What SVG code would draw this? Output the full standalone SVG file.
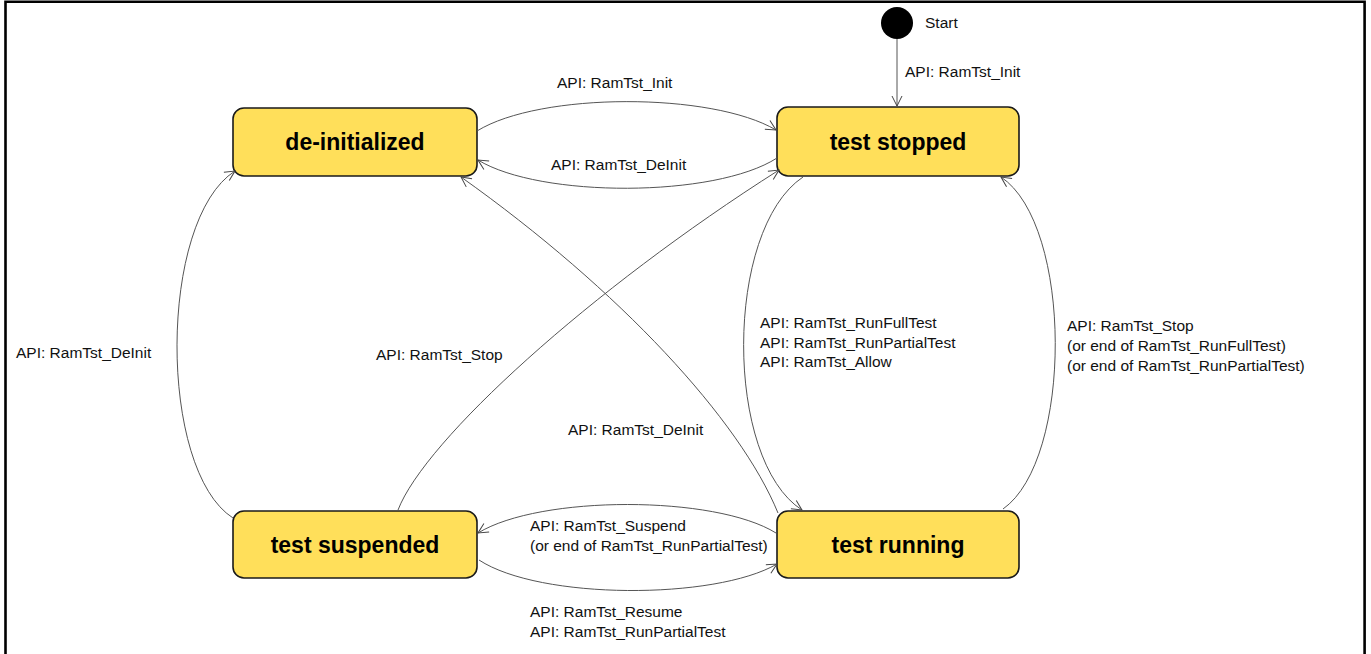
<svg xmlns="http://www.w3.org/2000/svg" width="1371" height="654" viewBox="0 0 1371 654">
<style>
.node rect{fill:#FFDF5A;stroke:#1a1a1a;stroke-width:1.6}
.title{font-family:"Liberation Sans",Arial,sans-serif;font-weight:bold;font-size:23px;fill:#000;text-anchor:middle}
.lbl{font-family:"Liberation Sans",Arial,sans-serif;font-size:15.5px;fill:#111}
.conn path,.conn line{fill:none;stroke:#555;stroke-width:1;marker-end:url(#arr)}
</style>
<defs>
<marker id="arr" viewBox="0 0 12 12" refX="11" refY="6" markerWidth="12" markerHeight="12" markerUnits="userSpaceOnUse" orient="auto">
<path d="M1,1 L11,6 L1,11" fill="none" stroke="#444" stroke-width="1"/>
</marker>
</defs>
<rect width="1371" height="654" fill="#fff"/>
<path d="M5.5,654 V1.8 H1364.6 V654" fill="none" stroke="#000" stroke-width="2.6"/>
<g id="start">
<circle cx="897" cy="23" r="16" fill="#000"/>
<text class="lbl" x="925" y="28">Start</text>
</g>
<g id="de-initialized" class="node">
<rect x="233" y="108" width="244" height="68" rx="11"/>
<text class="title" x="355" y="150">de-initialized</text>
</g>
<g id="test-stopped" class="node">
<rect x="777" y="107" width="242" height="69" rx="11"/>
<text class="title" x="898" y="150">test stopped</text>
</g>
<g id="test-suspended" class="node">
<rect x="233" y="511" width="244" height="67" rx="11"/>
<text class="title" x="355" y="553">test suspended</text>
</g>
<g id="test-running" class="node">
<rect x="777" y="511" width="242" height="67" rx="11"/>
<text class="title" x="898" y="553">test running</text>
</g>
<g id="connectors" class="conn">
<line x1="897" y1="39" x2="897" y2="106"/>
<path d="M477,131 C540,92 712,92 776,130"/>
<path d="M777,158 C715,198 540,198 478,160"/>
<path d="M233,518 C158,470 158,220 235,171"/>
<path d="M398,510 C425,440 590,290 779,170"/>
<path d="M778,513 C740,420 620,290 461,177"/>
<path d="M803,177 C724,230 724,460 802,510"/>
<path d="M1003,509 C1073,460 1073,225 1001,177"/>
<path d="M776,533 C715,495 540,495 478,533"/>
<path d="M479,560 C540,600 715,600 777,564"/>
</g>
<g id="labels">
<text class="lbl" x="905" y="77">API: RamTst_Init</text>
<text class="lbl" x="557" y="88">API: RamTst_Init</text>
<text class="lbl" x="551" y="170">API: RamTst_DeInit</text>
<text class="lbl" x="16" y="358">API: RamTst_DeInit</text>
<text class="lbl" x="376" y="360">API: RamTst_Stop</text>
<text class="lbl" x="568" y="435">API: RamTst_DeInit</text>
<text class="lbl" x="760" y="328">API: RamTst_RunFullTest</text>
<text class="lbl" x="760" y="348">API: RamTst_RunPartialTest</text>
<text class="lbl" x="760" y="367">API: RamTst_Allow</text>
<text class="lbl" x="1067" y="331">API: RamTst_Stop</text>
<text class="lbl" x="1067" y="351">(or end of RamTst_RunFullTest)</text>
<text class="lbl" x="1067" y="371">(or end of RamTst_RunPartialTest)</text>
<text class="lbl" x="530" y="531">API: RamTst_Suspend</text>
<text class="lbl" x="530" y="551">(or end of RamTst_RunPartialTest)</text>
<text class="lbl" x="530" y="617">API: RamTst_Resume</text>
<text class="lbl" x="530" y="637">API: RamTst_RunPartialTest</text>
</g>
</svg>
